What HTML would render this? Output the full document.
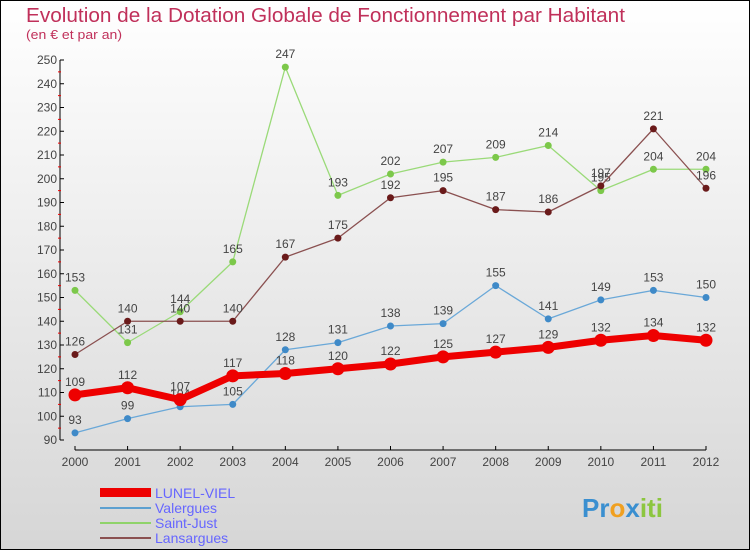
<!DOCTYPE html>
<html><head><meta charset="utf-8"><style>
body{margin:0;width:750px;height:550px;overflow:hidden}
#c{position:absolute;left:0;top:0;width:748px;height:548px;border:1px solid #000;background:linear-gradient(#fff,#d6d6d6)}
text{font-family:"Liberation Sans",sans-serif}
</style></head><body>
<div id="c">
<svg id="s" width="750" height="550" style="position:absolute;left:-1px;top:-1px">
<text x="26" y="22" font-size="20" fill="#c0305a" textLength="599" lengthAdjust="spacingAndGlyphs">Evolution de la Dotation Globale de Fonctionnement par Habitant</text>
<text x="26" y="39" font-size="13" fill="#c0305a" textLength="96" lengthAdjust="spacingAndGlyphs">(en € et par an)</text>
<g id="axes"></g><g id="series"></g>
<g>
<rect x="100" y="488" width="51" height="9" fill="#e00"/>
<text x="155" y="498" font-size="14" fill="#6666ff">LUNEL-VIEL</text>
<rect x="100" y="507" width="51" height="2" fill="#5da0d0"/>
<text x="155" y="513" font-size="14" fill="#6666ff">Valergues</text>
<rect x="100" y="522" width="51" height="2" fill="#8fd36a"/>
<text x="155" y="528" font-size="14" fill="#6666ff">Saint-Just</text>
<rect x="100" y="537" width="51" height="2" fill="#8a5050"/>
<text x="155" y="543" font-size="14" fill="#6666ff">Lansargues</text>
</g>
<text x="582" y="517" font-size="26" font-weight="bold"><tspan fill="#3a8fd0">Pr</tspan><tspan fill="#f0a020">o</tspan><tspan fill="#3a8fd0">x</tspan><tspan fill="#8cc63f">iti</tspan></text>
</svg></div>
<script>
const years=[2000,2001,2002,2003,2004,2005,2006,2007,2008,2009,2010,2011,2012];
const yTicks=[90,100,110,120,130,140,150,160,170,180,190,200,210,220,230,240,250];
const lunel=[109,112,107,117,118,120,122,125,127,129,132,134,132];
const valergues=[93,99,104,105,128,131,138,139,155,141,149,153,150];
const saintJust=[153,131,144,165,247,193,202,207,209,214,195,204,204];
const lansargues=[126,140,140,140,167,175,192,195,187,186,197,221,196];
const NS="http://www.w3.org/2000/svg";
const X=i=>75+i*(706-75)/12, Y=v=>440-(v-90)*380/160;
function mk(t,a,p){const e=document.createElementNS(NS,t);for(const k in a)e.setAttribute(k,a[k]);p.appendChild(e);return e;}
const ax=document.getElementById('axes'), sg=document.getElementById('series');
let e=mk('line',{x1:60,y1:Y(250),x2:60,y2:440,stroke:'#000'},ax);


e=mk('line',{x1:75,y1:450,x2:706,y2:450,stroke:'#000'},ax);


yTicks.forEach(v=>{mk('line',{x1:60,y1:Y(v),x2:64,y2:Y(v),stroke:'#000'},ax);
 if(v<250)mk('line',{x1:58,y1:Y(v+5),x2:61,y2:Y(v+5),stroke:'#e00'},ax);
 const t=mk('text',{x:57,y:Y(v)+4,'font-size':12,fill:'#444','text-anchor':'end'},ax);t.textContent=v;
 
 });
years.forEach((y,i)=>{mk('line',{x1:X(i),y1:446,x2:X(i),y2:450,stroke:'#000'},ax);
 const t=mk('text',{x:X(i),y:466,'font-size':12,fill:'#444','text-anchor':'middle'},ax);t.textContent=y;
 
 });
function draw(vals,col,dot,w,r,name){
 const g=mk('g',{},sg);
 
 
 mk('polyline',{points:vals.map((v,i)=>X(i)+','+Y(v)).join(' '),fill:'none',stroke:col,'stroke-width':w,'stroke-linejoin':'round'},g);
 vals.forEach((v,i)=>{const c=mk('circle',{cx:X(i),cy:Y(v),r:r,fill:dot},g);
  
  
  const t=mk('text',{x:X(i),y:Y(v)-9,'font-size':12,fill:'#444','text-anchor':'middle'},g);t.textContent=v;
  
  });
}
draw(saintJust,'#9ada78','#7cc84a',1.3,3.5,'saint-just');
draw(lansargues,'#8a5050','#6a1a1a',1.3,3.5,'lansargues');
draw(valergues,'#6aa8d8','#3f8ac8',1.3,3.5,'valergues');
draw(lunel,'#ee0000','#ee0000',7,6.5,'lunel-viel');
</script>
</body></html>
